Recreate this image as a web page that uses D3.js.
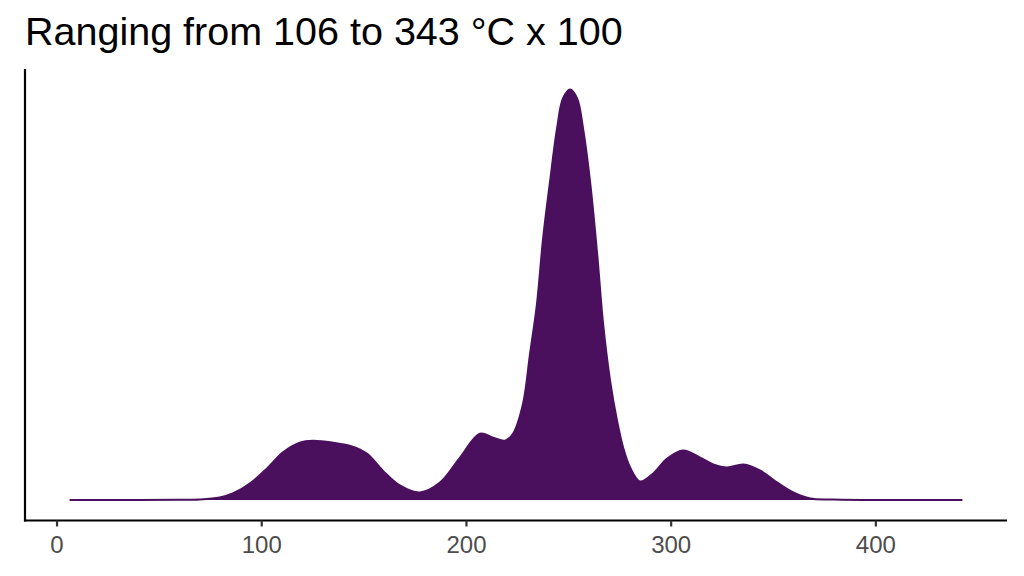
<!DOCTYPE html>
<html>
<head>
<meta charset="utf-8">
<style>
  body { margin: 0; background: #fff; }
  svg { display: block; }
</style>
</head>
<body>
<script src="https://d3js.org/d3.v7.min.js"></script>
<script>

// density estimate (x in °C, density x 1000)
var temps = [6.4, 40, 60, 69.9, 79.7, 86.1, 94.4, 102.7, 110.5, 118.8, 125.2, 135.0, 144.7,
             151.6, 159.4, 167.7, 177.5, 187.3, 197.1, 206.8, 213.2, 219.1, 223.0, 227.9,
             231.3, 234.7, 237.7, 241.1, 244.5, 247.4, 250.9, 254.3, 257.2, 260.6, 264.1,
             267.0, 270.4, 273.8, 276.8, 280.2, 285.1, 291.5, 298.3, 306.1, 314.4, 320.8,
             327.6, 335.5, 343.8, 352.1, 359.9, 368.2, 379.5, 400, 442.5];
var dens = [0, 0, 0.01, 0.03, 0.14, 0.36, 0.92, 1.75, 2.65, 3.20, 3.31, 3.20, 2.98,
            2.59, 1.64, 0.81, 0.42, 0.97, 2.37, 3.70, 3.48, 3.31, 3.70, 5.38,
            8.16, 10.95, 14.62, 17.80, 20.75, 22.42, 22.92, 22.42, 20.75, 17.80, 13.73,
            9.83, 6.66, 4.43, 2.92, 1.81, 1.03, 1.48, 2.31, 2.76, 2.37, 1.98,
            1.81, 1.98, 1.64, 0.97, 0.42, 0.08, 0.03, 0, 0];
var xTicks = [0, 100, 200, 300, 400];
var title = "Ranging from 106 to 343 °C x 100";

var W = 1024, H = 576;
var panel = {left: 25, right: 1007, top: 69, bottom: 520.5};
var fillCol = "#4a105e";
var font = "Liberation Sans, Arial, sans-serif";

var data = temps.map((t, i) => ({x: t, y: dens[i] / 1000}));

// ggplot style 5% expansion on both axes
var xr = d3.extent(temps), xpad = (xr[1] - xr[0]) * 0.05;
var ymax = d3.max(data, d => d.y), ypad = ymax * 0.05;

var x = d3.scaleLinear()
	.domain([xr[0] - xpad, xr[1] + xpad])
	.range([panel.left, panel.right]);

var y = d3.scaleLinear()
	.domain([-ypad, ymax + ypad])
	.range([panel.bottom, panel.top]);

var svg = d3.select("body").append("svg")
	.attr("width", W)
	.attr("height", H);

var curve = d3.curveCatmullRom.alpha(0.5);

var area = d3.area()
	.curve(curve)
	.x(d => x(d.x))
	.y0(y(0))
	.y1(d => y(d.y));

var line = d3.line()
	.curve(curve)
	.x(d => x(d.x))
	.y(d => y(d.y));

svg.append("path")
	.datum(data)
	.attr("fill", fillCol)
	.attr("d", area);

svg.append("path")
	.datum(data)
	.attr("fill", "none")
	.attr("stroke", fillCol)
	.attr("stroke-width", 2)
	.attr("d", line);

// x axis
var xAxis = svg.append("g")
	.attr("transform", "translate(0," + panel.bottom + ")")
	.call(d3.axisBottom(x).tickValues(xTicks).tickSize(6).tickPadding(9).tickSizeOuter(0));

xAxis.select(".domain")
	.attr("stroke", "#000")
	.attr("stroke-width", 2.2)
	.attr("d", "M" + (panel.left - 1) + ",0H" + panel.right);

xAxis.selectAll(".tick line")
	.attr("stroke", "#333")
	.attr("stroke-width", 2.2);

xAxis.selectAll(".tick text")
	.attr("fill", "#4d4d4d")
	.attr("font-size", 24)
	.attr("font-family", font);

// y axis line only, no ticks
svg.append("line")
	.attr("x1", panel.left)
	.attr("x2", panel.left)
	.attr("y1", panel.top)
	.attr("y2", panel.bottom + 1)
	.attr("stroke", "#000")
	.attr("stroke-width", 2.2);

svg.append("text")
	.attr("x", 25)
	.attr("y", 45)
	.attr("font-size", 39.5)
	.attr("font-family", font)
	.attr("fill", "#000")
	.text(title);

</script>
</body>
</html>
